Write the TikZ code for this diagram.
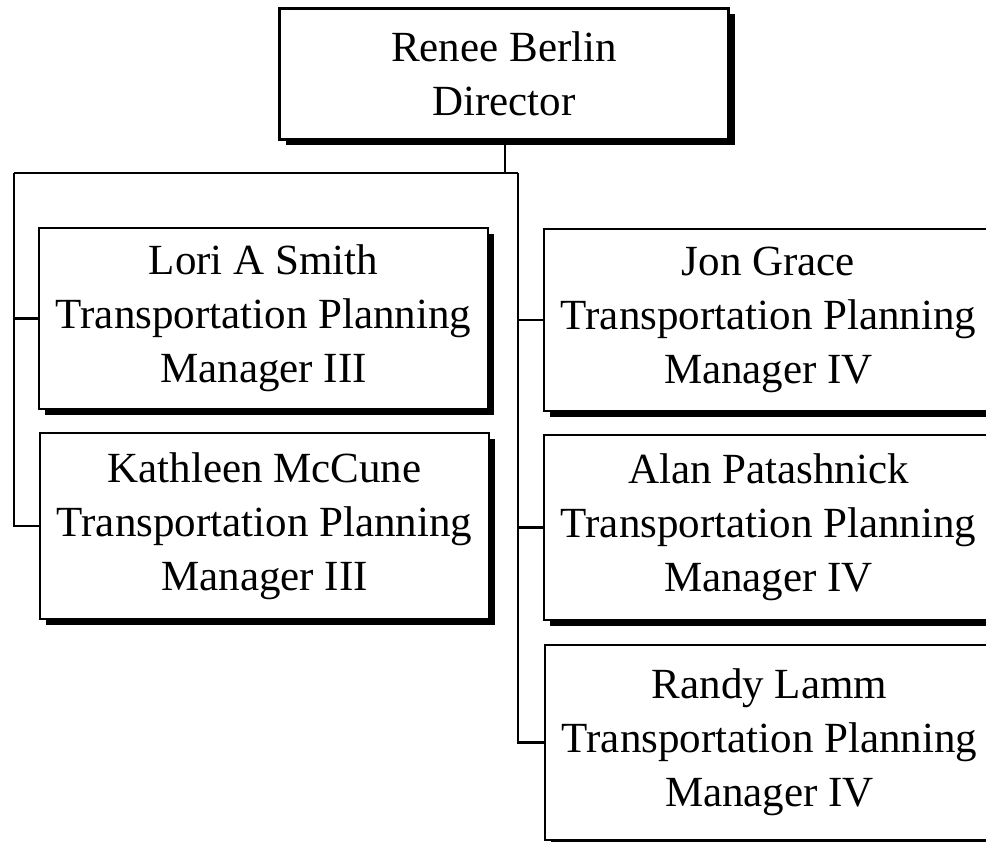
\documentclass[tikz,border=0pt]{standalone}
\usepackage{fontspec}
\setmainfont{Liberation Serif}
\usepackage{tikz}
\usetikzlibrary{positioning,shadows}

\begin{document}
\begin{tikzpicture}[x=1pt, y=-1pt,
    staff/.style={draw, fill=white, line width=2.2pt, minimum width=449pt, inner sep=0pt,
        align=center, font=\fontsize{43}{54}\selectfont,
        drop shadow={shadow xshift=6pt, shadow yshift=-6pt, fill=black, opacity=1}},
    link/.style={line width=2.4pt}]
    \clip (0,0) rectangle (986,842);

    % director
    \node[staff, minimum height=131pt] (boss) at (504,74) {Renee Berlin\\Director};

    % left column
    \node[staff, minimum height=181pt] (lori) at (263.5,318.5) {Lori A Smith\\Transportation Planning\\Manager III};
    \node[staff, minimum height=186pt] (kath) at (264.5,526) {Kathleen McCune\\Transportation Planning\\Manager III};

    % right column
    \node[staff, minimum height=182pt] (jon) at (768.5,320) {Jon Grace\\Transportation Planning\\Manager IV};
    \node[staff, minimum height=185pt] (alan) at (768.5,527.5) {Alan Patashnick\\Transportation Planning\\Manager IV};
    \node[staff, minimum height=195pt] (randy) at (769.5,742.5) {Randy Lamm\\Transportation Planning\\Manager IV};

    % Bus lines
    \coordinate (bus) at (505,173);
    \coordinate (lbus) at (14,173);
    \coordinate (rbus) at (518,173);
    \draw[link] (boss.south -| bus) -- (bus);
    \draw[link] (lbus) -- (rbus);
    \draw[link] (lbus) |- (kath.west);
    \draw[link] (lbus |- lori.west) -- (lori.west);
    \draw[link] (rbus) |- (randy.west);
    \foreach \n in {jon,alan} {
        \draw[link] (rbus |- \n.west) -- (\n.west);
    }
\end{tikzpicture}
\end{document}
